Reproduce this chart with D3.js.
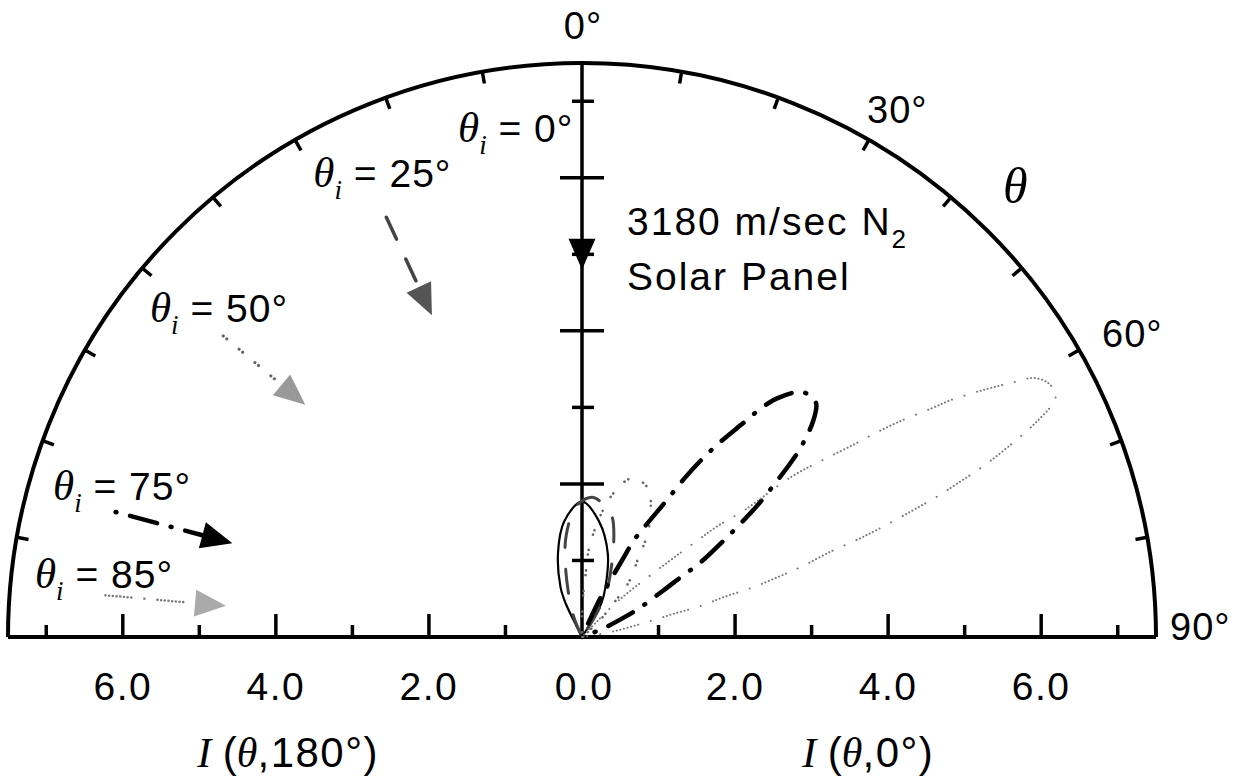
<!DOCTYPE html>
<html><head><meta charset="utf-8">
<script src="https://cdn.jsdelivr.net/npm/d3@7"></script>
<style>body{margin:0;background:#fff}svg{display:block}</style>
</head><body>
<svg id="c" width="1255" height="779"></svg>
<script>
// ---------- data ----------
const radialTicks = [1, 2, 3, 4, 5, 6, 7];
const radialLabelValues = [0, 2, 4, 6];
const angleTicks = [-80, -70, -60, -50, -40, -30, -20, -10, 10, 20, 30, 40, 50, 60, 70, 80];
const angleLabels = ["0°", "30°", "60°", "90°"];
const incidenceAngles = [0, 25, 50, 75, 85];
const arrowStartI = [null, 6.05, 6.12, 6.31, 6.25];
const arrowTipI = [4.80, 4.64, 4.72, 4.73, 4.67];

// theta (deg, from surface normal, + = forward) and intensity I
const theta0 = [-30, -26.6, -25.9, -23.3, -15.8, -8.7, 0, 8.3, 17.2, 25.2, 29.8, 31.7, 34];
const inten0 = [0, 0.25, 0.49, 0.71, 1.15, 1.53, 1.77, 1.53, 1.14, 0.72, 0.51, 0.26, 0];

const theta25 = [-28, -22, -16.6, -12.4, -8.9, -2.6, 4.1, 8, 13.8, 18.6, 23.4, 28, 32, 35];
const inten25 = [0, 0.31, 0.64, 1.02, 1.34, 1.71, 1.83, 1.78, 1.63, 1.30, 0.95, 0.69, 0.35, 0];

const theta50 = [-3, 1, 3, 5.3, 12.1, 17.7, 24.2, 28.9, 32.4, 35.5, 40.5, 43, 47, 52];
const inten50 = [0, 0.45, 0.75, 1.26, 1.91, 2.18, 2.12, 1.85, 1.60, 1.27, 0.94, 0.62, 0.30, 0];

const theta75 = [22, 24.5, 25.5, 27.5, 28.4, 30.3, 31.7, 32.8, 33.9, 35.2, 37.0, 38.0, 39.2, 41.7, 43.5, 45.1, 46.9, 49.1, 50.2, 51.3, 53.1, 54.4, 55.7, 57.8, 58.8, 60.2, 63.0, 65.1, 68, 72];
const inten75 = [0, 0.30, 0.63, 1.09, 1.47, 1.78, 2.08, 2.45, 2.77, 3.09, 3.50, 3.78, 4.02, 4.29, 4.34, 4.32, 4.14, 3.78, 3.54, 3.27, 2.87, 2.55, 2.25, 1.83, 1.51, 1.23, 0.87, 0.60, 0.30, 0];

const theta85 = [40, 45, 48.9, 50.1, 50.6, 52.0, 52.6, 53.8, 54.7, 55.1, 55.8, 56.8, 57.3, 58.4, 59.45, 60.1, 61.3, 62.8, 63.6, 64.7, 65.5, 66.8, 67.8, 68.4, 69.1, 70.0, 70.5, 71.0, 72.3, 72.9, 73.8, 74.3, 75.3, 75.8, 77.3, 80, 84];
const inten85 = [0, 0.66, 1.48, 1.96, 2.25, 2.69, 3.46, 3.95, 4.35, 4.61, 5.0, 5.45, 5.73, 6.16, 6.55, 6.79, 6.93, 6.96, 6.87, 6.56, 6.27, 5.76, 5.28, 5.0, 4.60, 4.12, 3.83, 3.46, 2.98, 2.72, 2.32, 1.91, 1.63, 1.23, 0.82, 0.40, 0];

// ---------- layout ----------
const svg = d3.select("#c");
const cx = 582, cy = 637, R = 574, maxI = 7.5;
const SANS = "'Liberation Sans', Arial, Helvetica, sans-serif";
const SERIF = "'Liberation Serif', 'Times New Roman', serif";
const r = d3.scaleLinear().domain([0, maxI]).range([0, R]);
const x = d3.scaleLinear().domain([-maxI, maxI]).range([cx - R, cx + R]);
const y = d3.scaleLinear().domain([0, maxI]).range([cy, cy - R]);
const rad = d => d * Math.PI / 180;
const polar = (th, I) => [cx + r(I) * Math.sin(rad(th)), cy - r(I) * Math.cos(rad(th))];

const g = svg.append("g");

// outer arc
const arcPath = d3.path();
arcPath.moveTo(cx - R, cy);
arcPath.arc(cx, cy, R, Math.PI, 2 * Math.PI);
g.append("path").attr("d", arcPath.toString()).attr("fill", "none")
  .attr("stroke", "#000").attr("stroke-width", 4);

// arc ticks (inward)
g.selectAll(".atick").data(angleTicks).join("line")
  .attr("x1", d => cx + R * Math.sin(rad(d))).attr("y1", d => cy - R * Math.cos(rad(d)))
  .attr("x2", d => cx + (R - 12) * Math.sin(rad(d))).attr("y2", d => cy - (R - 12) * Math.cos(rad(d)))
  .attr("stroke", "#000").attr("stroke-width", 3.5);

// baseline
g.append("line").attr("x1", x(-maxI)).attr("x2", x(maxI)).attr("y1", cy).attr("y2", cy)
  .attr("stroke", "#000").attr("stroke-width", 4);

// baseline ticks
const hTicks = radialTicks.flatMap(v => [v, -v]);
g.selectAll(".htick").data(hTicks).join("line")
  .attr("x1", d => x(d)).attr("x2", d => x(d))
  .attr("y1", cy).attr("y2", d => cy - (Math.abs(d) % 2 === 0 ? 23 : 12))
  .attr("stroke", "#000").attr("stroke-width", 3.5);

// vertical axis
g.append("line").attr("x1", cx).attr("x2", cx).attr("y1", y(0)).attr("y2", y(maxI))
  .attr("stroke", "#000").attr("stroke-width", 3.5);
g.selectAll(".vtick").data(radialTicks).join("line")
  .attr("y1", d => y(d)).attr("y2", d => y(d))
  .attr("x1", d => cx - (d % 2 === 0 ? 22 : 10)).attr("x2", d => cx + (d % 2 === 0 ? 22 : 12))
  .attr("stroke", "#000").attr("stroke-width", 3.5);

// tick labels
const tickLabelData = radialLabelValues.flatMap(v => v === 0 ? [0] : [-v, v]);
g.selectAll(".tlab").data(tickLabelData).join("text")
  .attr("x", d => x(d) + (d === 0 ? 2 : 0)).attr("y", cy + 63)
  .attr("text-anchor", "middle").attr("font-family", SANS).attr("font-size", 39)
  .attr("letter-spacing", 1.5)
  .text(d => Math.abs(d).toFixed(1));

// angle labels
const angleLabelOffsets = [[1, -24, "middle"], [-2, -17, "start"], [23, -3, "start"], [14, 3, "start"]];
angleLabels.forEach((t, i) => {
  const a = i * 30;
  const o = angleLabelOffsets[i];
  g.append("text")
    .attr("x", cx + R * Math.sin(rad(a)) + o[0]).attr("y", cy - R * Math.cos(rad(a)) + o[1])
    .attr("text-anchor", o[2]).attr("font-family", SANS).attr("font-size", 38)
    .attr("letter-spacing", 1).text(t);
});

// theta axis symbol
g.append("text")
  .attr("x", cx + R * Math.sin(rad(45)) + 15).attr("y", cy - R * Math.cos(rad(45)) - 28)
  .attr("font-family", SERIF).attr("font-style", "italic").attr("font-size", 50).text("θ");

// axis titles
function axisTitle(xc, rest) {
  const t = g.append("text").attr("x", xc).attr("y", cy + 130).attr("text-anchor", "middle")
    .attr("font-size", 42);
  t.append("tspan").attr("font-family", SERIF).attr("font-style", "italic").text("I");
  t.append("tspan").attr("font-family", SANS).text(" (");
  t.append("tspan").attr("font-family", SERIF).attr("font-style", "italic").text("θ");
  t.append("tspan").attr("font-family", SANS).attr("letter-spacing", 1.5).text("," + rest + ")");
}
axisTitle(x(-3.84), "180°");
axisTitle(x(3.74), "0°");

// title block
const tb = g.append("text").attr("x", cx + 45).attr("y", cy - 402)
  .attr("font-family", SANS).attr("font-size", 39).attr("letter-spacing", 2);
tb.append("tspan").text("3180 m/sec N");
tb.append("tspan").attr("font-size", 26).attr("dy", 13).attr("letter-spacing", 0).text("2");
g.append("text").attr("x", cx + 45).attr("y", cy - 347)
  .attr("font-family", SANS).attr("font-size", 39).attr("letter-spacing", 2).text("Solar Panel");

// ---------- curves ----------
const dots85 = Array(7).fill("0.1,3.6").join(",") + ",0.1,13,0.1,13";
const styles = {
  0:  {stroke: "#000", width: 2.2, dash: null, head: "#000"},
  25: {stroke: "#444", width: 3, dash: "24,22", head: "#555"},
  50: {stroke: "#666", width: 2.6, dash: "0.1,4.5,0.1,16", head: "#999"},
  75: {stroke: "#000", width: 4.5, dash: "1,14,28,14", head: "#000"},
  85: {stroke: "#777", width: 2, dash: dots85, head: "#aaa"}
};
const curves = [
  [0, theta0, inten0], [25, theta25, inten25], [50, theta50, inten50],
  [75, theta75, inten75], [85, theta85, inten85]
];
const radial = d3.lineRadial()
  .angle(d => rad(d[0])).radius(d => r(d[1]))
  .curve(d3.curveCatmullRom.alpha(0.5));
const cg = g.append("g").attr("transform", `translate(${cx},${cy})`);
curves.forEach(([ang, th, I]) => {
  const s = styles[ang];
  cg.append("path").datum(th.map((t, i) => [t, I[i]]))
    .attr("d", radial).attr("fill", "none")
    .attr("stroke", s.stroke).attr("stroke-width", s.width)
    .attr("stroke-linecap", "round").attr("stroke-linejoin", "round")
    .attr("stroke-dasharray", s.dash);
});

// ---------- incidence arrows ----------
const headLen = 31, headW = 27;
incidenceAngles.forEach((ang, i) => {
  const s = styles[ang];
  const th = -ang;
  const tip = polar(th, arrowTipI[i]);
  const dir = [Math.sin(rad(ang)), Math.cos(rad(ang))]; // toward origin
  const perp = [-dir[1], dir[0]];
  const base = [tip[0] - headLen * dir[0], tip[1] - headLen * dir[1]];
  if (arrowStartI[i] !== null) {
    const st = polar(th, arrowStartI[i]);
    g.append("line").attr("x1", st[0]).attr("y1", st[1]).attr("x2", base[0]).attr("y2", base[1])
      .attr("stroke", s.stroke).attr("stroke-width", ang === 75 ? 4.5 : s.width + 0.5)
      .attr("stroke-linecap", "round").attr("stroke-dasharray", s.dash);
  }
  const pts = [tip, [base[0] + perp[0] * headW / 2, base[1] + perp[1] * headW / 2],
               [base[0] - perp[0] * headW / 2, base[1] - perp[1] * headW / 2]];
  g.append("path").attr("d", "M" + pts.map(p => p.join(",")).join("L") + "Z")
    .attr("fill", s.head).attr("stroke", "none");
});

// incidence labels (start x, baseline y in data units)
const incLabelX = [-1.62, -3.51, -5.645, -6.912, -7.148];
const incLabelY = [6.47, 5.88, 4.116, 1.79, 0.64];
incidenceAngles.forEach((ang, i) => {
  const t = g.append("text").attr("x", x(incLabelX[i])).attr("y", y(incLabelY[i]));
  t.append("tspan").attr("font-family", SERIF).attr("font-style", "italic").attr("font-size", 43).text("θ");
  t.append("tspan").attr("font-family", SERIF).attr("font-style", "italic").attr("font-size", 27)
    .attr("dy", 12).text("i");
  t.append("tspan").attr("font-family", SANS).attr("font-size", 39).attr("dy", -12)
    .attr("letter-spacing", 1).text(" = " + ang + "°");
});
</script>
</body></html>
